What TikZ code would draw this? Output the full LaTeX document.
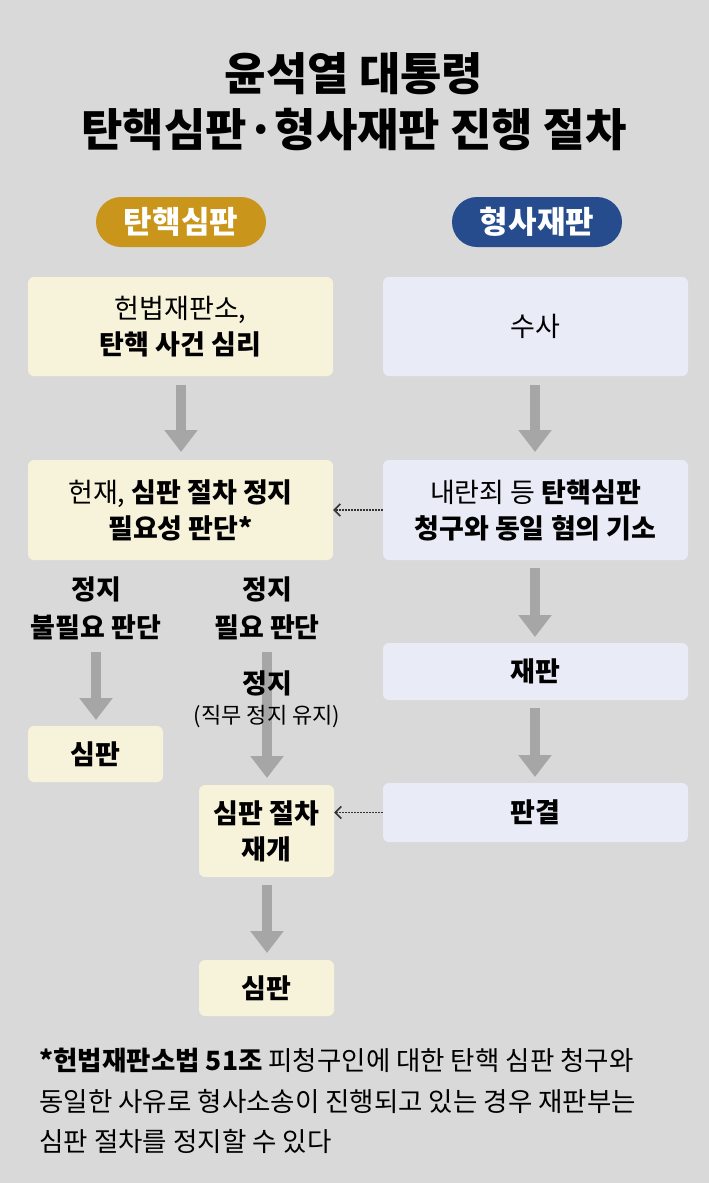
\documentclass[tikz,border=0pt]{standalone}
\usepackage{fontspec}
\setmainfont{Noto Sans CJK KR}
\usetikzlibrary{arrows.meta}
\definecolor{bg}{HTML}{D9D9D9}
\definecolor{cream}{HTML}{F7F2DA}
\definecolor{lav}{HTML}{E9ECF6}
\definecolor{gold}{HTML}{C9951A}
\definecolor{navy}{HTML}{264C8E}
\definecolor{arr}{HTML}{A6A6A6}
\tikzset{x=1pt,y=-1pt,
 lbox/.style={fill=cream,rounded corners=6pt,inner sep=0,align=center,font=\fontsize{27}{36}\selectfont},
 rbox/.style={lbox,fill=lav},
 pill/.style={rounded corners=25pt,minimum width=170pt,minimum height=50pt,text=white,font=\fontsize{31}{32}\selectfont\bfseries},
 big/.style={-{Triangle[width=32pt,length=22pt]},line width=10pt,draw=arr},
 dot/.style={-{Straight Barb[length=6pt,width=12pt]},dash pattern=on 1.5pt off 1.5pt,line width=1.5pt,draw=black!80},
 lab/.style={align=center,font=\fontsize{27}{38}\selectfont\bfseries}}
\begin{document}
\begin{tikzpicture}
\fill[bg] (0,0) rectangle (709,1183);
\useasboundingbox (0,0) rectangle (709,1183);
\node[font=\fontsize{45}{56}\selectfont\bfseries,align=center] (title) at (354,102) {윤석열 대통령\\탄핵심판·형사재판 진행 절차};
\node[pill,fill=gold] (p1) at (181,222) {탄핵심판};
\node[pill,fill=navy] (p2) at (537,222) {형사재판};
\node[lbox,minimum width=305pt,minimum height=99pt] (l1) at (180.5,326.5) {헌법재판소,\\\textbf{탄핵 사건 심리}};
\node[rbox,minimum width=305pt,minimum height=99pt] (r1) at (535.5,326.5) {수사};
\node[lbox,minimum width=305pt,minimum height=100pt] (l2) at (180.5,510) {헌재, \textbf{심판 절차 정지}\\\textbf{필요성 판단*}};
\node[rbox,minimum width=305pt,minimum height=100pt] (r2) at (535.5,510) {내란죄 등 \textbf{탄핵심판}\\\textbf{청구와 동일 혐의 기소}};
\node[rbox,minimum width=305pt,minimum height=57pt,font=\fontsize{27}{36}\selectfont\bfseries] (r3) at (535.5,671.5) {재판};
\node[rbox,minimum width=305pt,minimum height=59pt,font=\fontsize{27}{36}\selectfont\bfseries] (r4) at (535.5,812.5) {판결};
\node[lab] (t1) at (96,608) {정지\\불필요 판단};
\node[lab] (t2) at (267,608) {정지\\필요 판단};
\node[lbox,minimum width=135pt,minimum height=56pt,font=\fontsize{27}{36}\selectfont\bfseries] (l3) at (95.5,754) {심판};
\node[lbox,minimum width=135pt,minimum height=92pt,font=\fontsize{27}{36}\selectfont\bfseries] (l4) at (266.5,831) {심판 절차\\재개};
\node[lbox,minimum width=135pt,minimum height=56pt,font=\fontsize{27}{36}\selectfont\bfseries] (l5) at (266.5,988) {심판};
\draw[big] (181,385) -- (181,452);
\draw[big] (535,385) -- (535,452);
\draw[big] (535,568) -- (535,637);
\draw[big] (535,708) -- (535,777);
\draw[big] (96,652) -- (96,720);
\draw[big] (267,652) -- (267,778);
\draw[big] (267,885) -- (267,953);
\node[lab] (t3) at (267,683) {정지};
\node[font=\fontsize{22}{26}\selectfont] (t4) at (267,717) {(직무 정지 유지)};
\draw[dot] (r2.west) -- (l2.east);
\coordinate (l4e) at (l4.east |- r4.west);
\draw[dot] (r4.west) -- (l4e);
\node[anchor=north west,align=left,font=\fontsize{26.5}{40.5}\selectfont] (fn) at (36,1045) {\textbf{*헌법재판소법 51조} 피청구인에 대한 탄핵 심판 청구와\\동일한 사유로 형사소송이 진행되고 있는 경우 재판부는\\심판 절차를 정지할 수 있다};
\end{tikzpicture}
\end{document}
